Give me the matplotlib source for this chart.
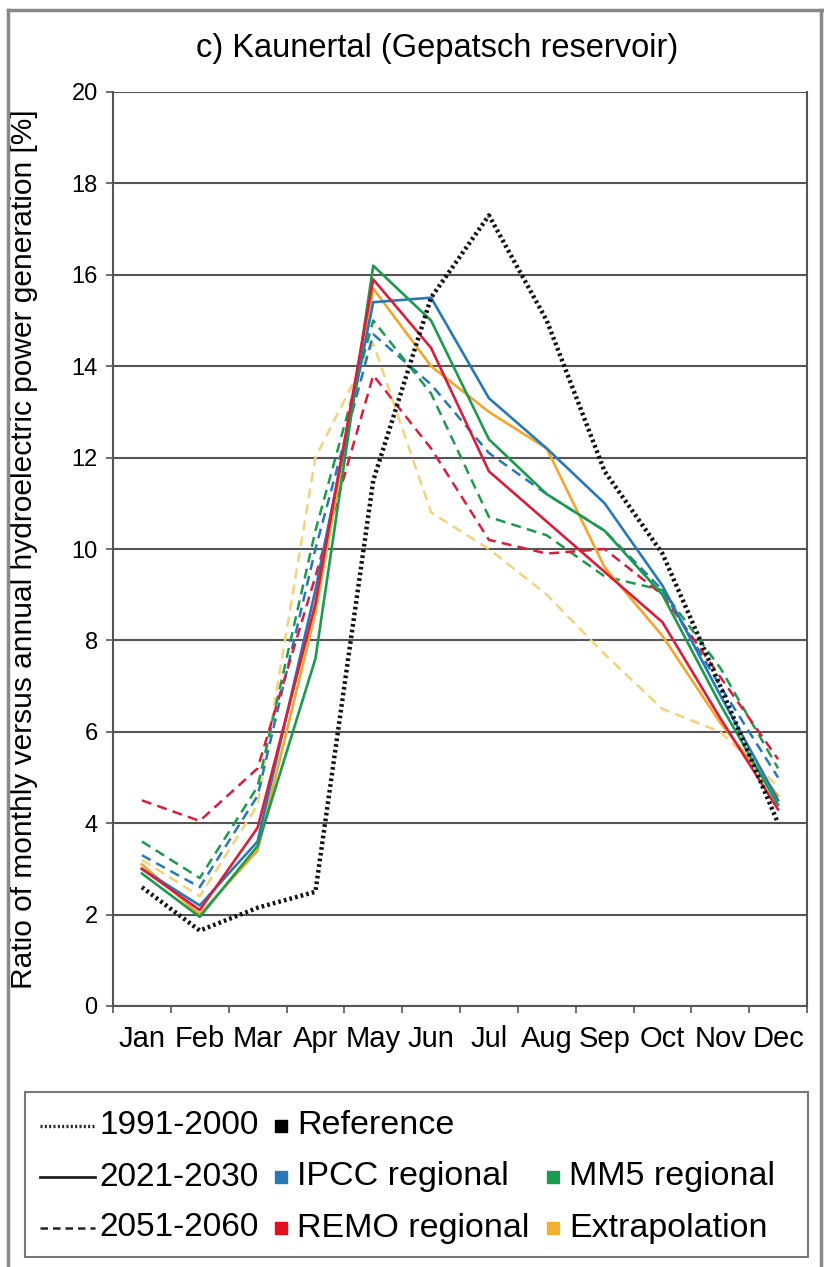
import matplotlib
matplotlib.use('Agg')
import matplotlib.pyplot as plt
from matplotlib.lines import Line2D
from matplotlib.patches import Rectangle

plt.rcParams['font.family'] = ['Liberation Sans', 'DejaVu Sans']

W, H = 824, 1267

months = ['Jan', 'Feb', 'Mar', 'Apr', 'May', 'Jun', 'Jul', 'Aug', 'Sep', 'Oct', 'Nov', 'Dec']

# 1991-2000 reference
ref_1991 = [2.6, 1.65, 2.15, 2.5, 11.5, 15.5, 17.3, 15.0, 11.7, 9.9, 7.0, 4.0]

# 2021-2030 (solid)
ipcc_2030 = [3.0, 2.2, 3.6, 9.1, 15.4, 15.5, 13.3, 12.2, 11.0, 9.2, 6.8, 4.5]
mm5_2030 = [2.9, 1.95, 3.5, 7.6, 16.2, 15.0, 12.4, 11.2, 10.4, 9.0, 6.6, 4.4]
remo_2030 = [3.0, 2.1, 3.9, 8.8, 15.9, 14.4, 11.7, 10.6, 9.5, 8.4, 6.3, 4.3]
extra_2030 = [3.1, 2.0, 3.4, 8.6, 15.7, 14.0, 13.0, 12.2, 9.6, 8.1, 6.2, 4.6]

# 2051-2060 (dashed)
ipcc_2060 = [3.3, 2.6, 4.6, 10.0, 14.7, 13.6, 12.1, 11.2, 10.4, 9.1, 7.0, 5.0]
mm5_2060 = [3.6, 2.8, 4.8, 10.4, 15.0, 13.4, 10.7, 10.3, 9.4, 9.1, 7.4, 5.2]
remo_2060 = [4.5, 4.05, 5.2, 9.4, 13.8, 12.2, 10.2, 9.9, 10.0, 9.0, 7.2, 5.4]
extra_2060 = [3.2, 2.4, 4.4, 12.0, 14.5, 10.8, 10.0, 9.0, 7.7, 6.5, 6.0, 4.8]

col_ipcc = '#2878b8'
col_mm5 = '#1c9a4e'
col_remo = '#d81e3c'
col_extra = '#f2a630'
col_extra_light = '#f3d27e'


def px(x, y):
    return x / W, 1 - y / H


fig = plt.figure(figsize=(W / 100, H / 100), dpi=100)
ax = fig.add_axes([113 / W, 1 - 1006 / H, (807 - 113) / W, (1006 - 92) / H])

x = list(range(len(months)))

dash = (0, (4, 2.5))
ax.plot(x, extra_2060, color=col_extra_light, lw=1.8, ls=dash)
ax.plot(x, ipcc_2060, color=col_ipcc, lw=1.8, ls=dash)
ax.plot(x, mm5_2060, color=col_mm5, lw=1.8, ls=dash)
ax.plot(x, remo_2060, color=col_remo, lw=1.8, ls=dash)

ax.plot(x, extra_2030, color=col_extra, lw=1.9)
ax.plot(x, ipcc_2030, color=col_ipcc, lw=1.9)
ax.plot(x, mm5_2030, color=col_mm5, lw=1.9)
ax.plot(x, remo_2030, color=col_remo, lw=1.9)

ax.plot(x, ref_1991, color='#111111', lw=3.2, ls=(0, (0.6, 0.7)))

ax.set_xlim(-0.5, 11.5)
ax.set_ylim(0, 20)
ax.set_yticks(range(0, 21, 2))
ax.yaxis.grid(True, color='#555555', lw=1.5)
ax.set_axisbelow(True)
ax.set_xticks(x)
ax.set_xticklabels(months, fontsize=21)
ax.set_xticks([i - 0.5 for i in range(13)], minor=True)
ax.tick_params(axis='x', which='major', length=0, pad=14)
ax.tick_params(axis='x', which='minor', length=5, width=1.2, color='#555555')
ax.tick_params(axis='y', length=5, width=1.2, color='#555555', labelsize=17, pad=6)

for s in ['left', 'bottom', 'right']:
    ax.spines[s].set_color('#555555')
    ax.spines[s].set_linewidth(1.5)
ax.spines['top'].set_visible(False)

ax.set_ylabel('Ratio of monthly versus annual hydroelectric power generation [%]', fontsize=21.5)
ax.yaxis.set_label_coords(-75 / (807 - 113), 0.5)

fig.text(*px(437, 48), 'c) Kaunertal (Gepatsch reservoir)', fontsize=23.5, ha='center', va='center')

# outer frame
fcol = '#888888'
fig.add_artist(Line2D([px(8, 0)[0]] * 2, [px(0, 10)[1], 0], color=fcol, lw=2.5))
fig.add_artist(Line2D([px(8, 0)[0], px(822, 0)[0]], [px(0, 10)[1]] * 2, color=fcol, lw=2.5))
fig.add_artist(Line2D([px(821, 0)[0]] * 2, [px(0, 10)[1], 0], color=fcol, lw=2.5))

# legend box
x0, y0 = px(25, 1257)
x1, y1 = px(808, 1092)
fig.add_artist(Rectangle((x0, y0), x1 - x0, y1 - y0, transform=fig.transFigure,
                         fill=False, edgecolor='#777777', lw=1.5))

rows_y = [1126, 1177, 1228]
periods = ['1991-2000', '2021-2030', '2051-2060']
styles = [(0, (0.6, 0.7)), '-', (0, (3, 2))]
lws = [2.4, 2.0, 1.8]
for yy, lab, ls, lw in zip(rows_y, periods, styles, lws):
    xa, ya = px(40, yy)
    xb, _ = px(95, yy)
    fig.add_artist(Line2D([xa, xb], [ya, ya], color='#222222', lw=lw, ls=ls))
    fig.text(*px(99, yy), lab, fontsize=24, va='center', ha='left')

sources = [
    (281, 1126, 'black', 'Reference'),
    (281, 1177, col_ipcc, 'IPCC regional'),
    (281, 1228, '#e0101e', 'REMO regional'),
    (553, 1177, col_mm5, 'MM5 regional'),
    (553, 1228, '#f0b030', 'Extrapolation'),
]
for sx, sy, c, lab in sources:
    xa, ya = px(sx, sy)
    fig.add_artist(Line2D([xa], [ya], marker='s', ms=9, color=c, ls='none'))
    fig.text(*px(sx + 16, sy), lab, fontsize=24.5, va='center', ha='left')

fig.savefig('out.png', dpi=100)
